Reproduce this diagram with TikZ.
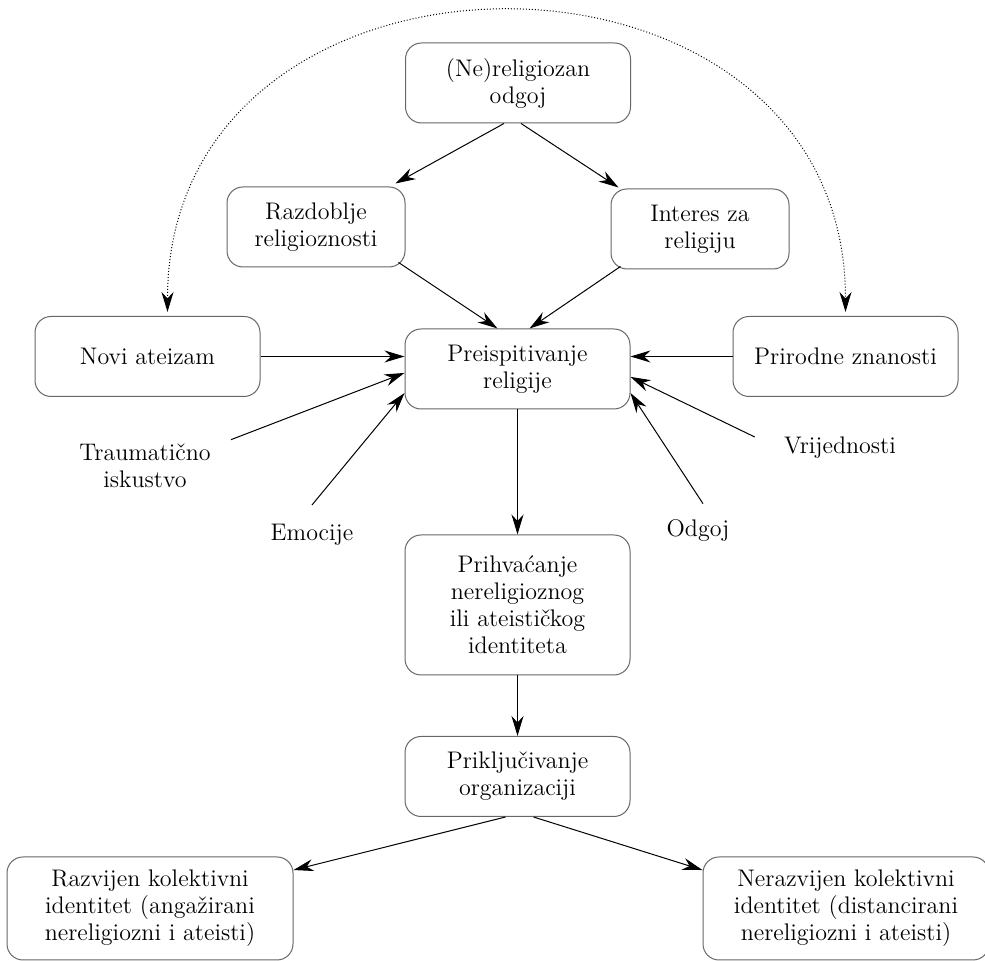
\documentclass[tikz,border=0pt]{standalone}
\usetikzlibrary{arrows.meta,calc}

\begin{document}
\begin{tikzpicture}[x=0.5pt,y=0.5pt,
    box/.style={draw=black!60, line width=0.5pt, rounded corners=8pt, align=center,
      minimum width=112.5pt, minimum height=40pt, inner sep=3pt,
      font=\fontsize{12}{13.5}\selectfont},
    lbl/.style={align=center, inner sep=2pt, font=\fontsize{12}{13.5}\selectfont},
    arr/.style={-{Stealth[length=10pt,width=6pt]}, line width=0.5pt},
    dots/.style={{Stealth[length=10pt,width=6pt]}-{Stealth[length=10pt,width=6pt]},
      densely dotted, line width=0.5pt}]
  \useasboundingbox (0,0) rectangle (985,961);
  % upper part
  \node[box] (odg) at (518,878) {(Ne)religiozan\\odgoj};
  \node[box,minimum width=89pt] (razd) at (316,734) {Razdoblje\\religioznosti};
  \node[box,minimum width=89pt] (intr) at (700,732) {Interes za\\religiju};
  \node[box] (novi) at (147.5,604.5) {Novi ateizam};
  \node[box] (preisp) at (517.5,592) {Preispitivanje\\religije};
  \node[box] (prir) at (845.5,604.5) {Prirodne znanosti};
  % factors without a box
  \node[lbl] (traum) at (145,495) {Traumatično\\iskustvo};
  \node[lbl] (vrij) at (840,513) {Vrijednosti};
  \node[lbl] (emoc) at (312,426) {Emocije};
  \node[lbl] (odgoj) at (698,430) {Odgoj};
  % lower part
  \node[box,minimum height=70pt] (prihv) at (517.5,356)
    {Prihvaćanje\\nereligioznog\\ili ateističkog\\identiteta};
  \node[box] (prikl) at (517.5,184.5) {Priključivanje\\organizaciji};
  \node[box,minimum width=143pt,minimum height=51.5pt] (razv) at (150,52.5)
    {Razvijen kolektivni\\identitet (angažirani\\nereligiozni i ateisti)};
  \node[box,minimum width=143pt,minimum height=51.5pt] (neraz) at (846,52.5)
    {Nerazvijen kolektivni\\identitet (distancirani\\nereligiozni i ateisti)};

  % arrows
  \draw[arr] ([xshift=-7pt]odg.south) -- ([xshift=-5pt,yshift=1.5pt]razd.north east);
  \draw[arr] ([xshift=1.5pt]odg.south) -- ([xshift=4pt,yshift=0.5pt]intr.north west);
  \draw[arr] ([xshift=-3.5pt,yshift=2.5pt]razd.south east) -- ([xshift=-10pt]preisp.north);
  \draw[arr] ([xshift=5pt,yshift=1.5pt]intr.south west) -- ([xshift=6pt]preisp.north);
  \draw[arr] (novi.east) -- (novi.east -| preisp.west);
  \draw[arr] (prir.west) -- (prir.west -| preisp.east);
  \draw[arr] ([xshift=8pt]traum.north east) -- (preisp.182);
  \draw[arr] ([yshift=7.5pt]emoc.north) -- (preisp.192);
  \draw[arr] ([xshift=-12.5pt,yshift=5.5pt]vrij.west) -- (preisp.356);
  \draw[arr] ([xshift=2.5pt,yshift=6pt]odgoj.north) -- (preisp.348);
  \draw[arr] (preisp) -- (prihv);
  \draw[arr] (prihv) -- (prikl);
  \draw[arr] ([xshift=-6pt]prikl.south) -- (razv.15);
  \draw[arr] ([xshift=8pt]prikl.south) -- (neraz.165);
  % dotted arc
  \draw[dots] ([xshift=10pt,yshift=2pt]novi.north) .. controls +(0,400) and +(0,400) .. ([yshift=2pt]prir.north);
\end{tikzpicture}
\end{document}
